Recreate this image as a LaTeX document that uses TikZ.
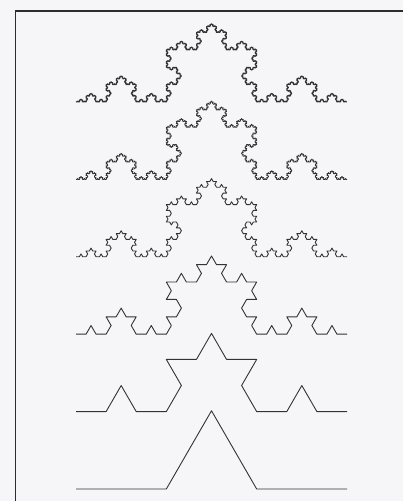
\documentclass[tikz,border=0pt]{standalone}
\usetikzlibrary{lindenmayersystems}
\pgfdeclarelindenmayersystem{KochCurve}{\rule{F -> F+F--F+F}}
\definecolor{paper}{RGB}{246,246,248}
\definecolor{ink}{RGB}{50,50,55}
\tikzset{
  kochline/.style={draw=ink, line width=0.9pt, line join=round},
  framel/.style={draw=ink!90!black, line width=1.6pt}
}
\begin{document}
\begin{tikzpicture}[x=1pt,y=1pt]
\fill[paper] (0,0) rectangle (403,501);
\useasboundingbox (0,0) rectangle (403,501);
% frame (top and left edges visible)
\coordinate (ftl) at (15.5,490);
\coordinate (ftr) at (403,490);
\coordinate (fbl) at (15.5,0);
\draw[framel] (ftr) -- (ftl) -- (fbl);
% start points of the curves (baselines)
\coordinate (s1) at (76,12);
\coordinate (s2) at (76,89.4);
\coordinate (s3) at (76,166.8);
\coordinate (s4) at (76,244.2);
\coordinate (s5) at (76,321.6);
\coordinate (s6) at (76,399);
\begin{scope}[shift={(s1)}]
\draw[kochline, l-system={KochCurve, axiom=F, order=1, step=90.3333pt, angle=60}] lindenmayer system;
\end{scope}
\begin{scope}[shift={(s2)}]
\draw[kochline, l-system={KochCurve, axiom=F, order=2, step=30.1111pt, angle=60}] lindenmayer system;
\end{scope}
\begin{scope}[shift={(s3)}]
\draw[kochline, l-system={KochCurve, axiom=F, order=3, step=10.0370pt, angle=60}] lindenmayer system;
\end{scope}
\begin{scope}[shift={(s4)}]
\draw[kochline, l-system={KochCurve, axiom=F, order=4, step=3.34568pt, angle=60}] lindenmayer system;
\end{scope}
\begin{scope}[shift={(s5)}]
\draw[kochline, l-system={KochCurve, axiom=F, order=5, step=1.11523pt, angle=60}] lindenmayer system;
\end{scope}
\begin{scope}[shift={(s6)}]
\draw[kochline, l-system={KochCurve, axiom=F, order=6, step=0.37174pt, angle=60}] lindenmayer system;
\end{scope}
\end{tikzpicture}
\end{document}
